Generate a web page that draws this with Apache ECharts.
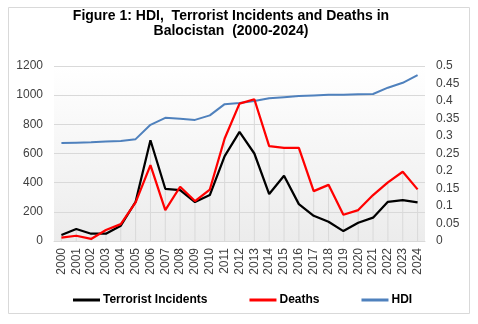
<!DOCTYPE html>
<html>
<head>
<meta charset="utf-8">
<script src="https://cdn.jsdelivr.net/npm/echarts@6/dist/echarts.min.js"></script>
<style>
  html, body { margin: 0; padding: 0; background: #ffffff; }
  #chart { width: 478px; height: 324px; }
</style>
</head>
<body>
<div id="chart"></div>
<script>
// Balochistan, 2000-2024
const years = ['2000','2001','2002','2003','2004','2005','2006','2007','2008','2009','2010','2011','2012',
               '2013','2014','2015','2016','2017','2018','2019','2020','2021','2022','2023','2024'];
const incidents = [41, 82, 50, 50, 105, 269, 691, 358, 349, 267, 315, 582, 748,
                   600, 322, 447, 253, 173, 132, 68, 125, 160, 269, 281, 265];
const deaths = [23, 36, 14, 75, 116, 265, 520, 212, 372, 274, 353, 703, 942,
                972, 650, 639, 639, 342, 385, 180, 212, 315, 402, 475, 354];
const hdi = [0.280, 0.281, 0.282, 0.284, 0.286, 0.291, 0.332, 0.352, 0.349, 0.346, 0.359, 0.391, 0.394,
             0.400, 0.408, 0.411, 0.414, 0.416, 0.418, 0.418, 0.419, 0.420, 0.438, 0.452, 0.474];

// drop lines run from the higher of the two count series down to the axis
const dropTops = incidents.map((v, i) => Math.max(v, deaths[i]));

const FONT = '"Liberation Sans", Arial, sans-serif';

const chart = echarts.init(document.getElementById('chart'), null, { renderer: 'canvas' });
chart.setOption({
  animation: false,
  backgroundColor: '#ffffff',
  graphic: [
    {
      type: 'rect', silent: true, z: -10,
      shape: { x: 8.5, y: 7.5, width: 461, height: 306 },
      style: { fill: '#ffffff', stroke: '#d9d9d9', lineWidth: 1 }
    },
    {
      type: 'text', x: 231, y: 8, silent: true,
      style: {
        text: 'Figure 1: HDI,  Terrorist Incidents and Deaths in\nBalocistan  (2000-2024)',
        align: 'center', verticalAlign: 'top',
        font: 'bold 14px ' + FONT, fill: '#000000', lineHeight: 15.5
      }
    }
  ],
  grid: {
    left: 54, right: 53, top: 66, bottom: 83, show: true, borderWidth: 0,
    backgroundColor: new echarts.graphic.LinearGradient(0, 0, 0, 1, [
      { offset: 0, color: '#ffffff' },
      { offset: 1, color: '#ececec' }
    ])
  },
  legend: {
    left: 73, top: 294, padding: 0,
    itemWidth: 27, itemHeight: 3, itemGap: 42,
    icon: 'rect',
    data: ['Terrorist Incidents', 'Deaths', 'HDI'],
    textStyle: { fontFamily: FONT, fontSize: 12, fontWeight: 'bold', color: '#000000', padding: [0, 0, 0, -2] }
  },
  xAxis: {
    type: 'category', data: years, boundaryGap: true,
    axisLine: { lineStyle: { color: '#d9d9d9', width: 1 } },
    axisTick: { show: false },
    axisLabel: { rotate: 90, margin: 7, fontFamily: FONT, fontSize: 12, color: '#404040', interval: 0 },
    splitLine: { show: false }
  },
  yAxis: [
    {
      type: 'value', min: 0, max: 1200, interval: 200,
      axisLine: { show: false }, axisTick: { show: false },
      axisLabel: { margin: 11, fontFamily: FONT, fontSize: 12, color: '#404040', formatter: v => String(v) },
      splitLine: { lineStyle: { color: '#d9d9d9', width: 1 } }
    },
    {
      type: 'value', min: 0, max: 0.5, interval: 0.05, position: 'right',
      axisLine: { show: false }, axisTick: { show: false },
      axisLabel: {
        margin: 11, fontFamily: FONT, fontSize: 12, color: '#404040',
        formatter: v => String(Math.round(v * 100) / 100)
      },
      splitLine: { show: false }
    }
  ],
  series: [
    {
      name: 'drop', type: 'bar', data: dropTops, barWidth: 1, silent: true, z: 0,
      itemStyle: { color: '#d9d9d9' }, legendHoverLink: false
    },
    {
      name: 'Terrorist Incidents', type: 'line', data: incidents, yAxisIndex: 0,
      symbol: 'none', z: 3,
      lineStyle: { color: '#000000', width: 2.25 }, itemStyle: { color: '#000000' }
    },
    {
      name: 'Deaths', type: 'line', data: deaths, yAxisIndex: 0,
      symbol: 'none', z: 4,
      lineStyle: { color: '#ff0000', width: 2.25 }, itemStyle: { color: '#ff0000' }
    },
    {
      name: 'HDI', type: 'line', data: hdi, yAxisIndex: 1,
      symbol: 'none', z: 2,
      lineStyle: { color: '#4f81bd', width: 2 }, itemStyle: { color: '#4f81bd' }
    }
  ]
});
</script>
</body>
</html>
